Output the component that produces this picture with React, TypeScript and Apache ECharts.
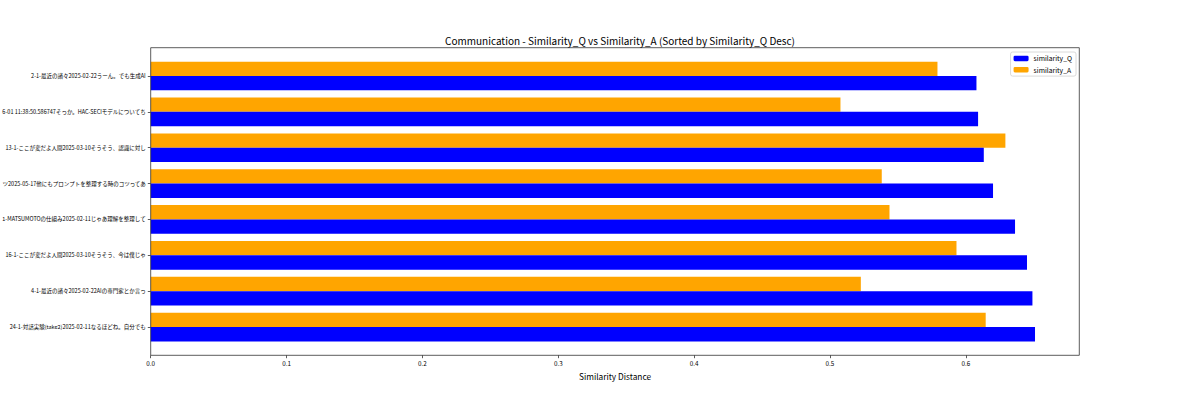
import React, { useEffect, useRef } from "react";
import * as echarts from "echarts";

const categories: string[] = [
  "2-1-最近の諸々2025-02-22うーん。でも生成AI",
  "6-01 11:38:50.586747そっか。HAC-SECIモデルについてち",
  "13-1-ここが変だよ人間2025-03-10そうそう、認識に対し",
  "ツ2025-05-17他にもプロンプトを整理する時のコツってあ",
  "1-MATSUMOTOの仕組み2025-02-11じゃあ理解を整理して",
  "16-1-ここが変だよ人間2025-03-10そうそう、今は僕じゃ",
  "4-1-最近の諸々2025-02-22AIの専門家とか言っ",
  "24-1-対話実験(take2)2025-02-11なるほどね。自分でも",
];
const similarityQ: number[] = [0.6078, 0.609, 0.6132, 0.62, 0.6362, 0.645, 0.649, 0.6509];
const similarityA: number[] = [0.5791, 0.5077, 0.6291, 0.5381, 0.5438, 0.5931, 0.5227, 0.6146];
const xMax = 0.6835;
const xInterval = 0.1;

const FONT = "'Noto Sans CJK JP', 'Noto Sans', sans-serif";

export default function App() {
  const ref = useRef<HTMLDivElement>(null);
  useEffect(() => {
    if (!ref.current) return;
    const chart = echarts.init(ref.current, null, { renderer: "svg" });
    const L = 150.7, R = 1079.3, T = 47.7, B = 355.3;
    const gridTop = 58.07, gridBottom = 345.0;
    chart.setOption({
      animation: false,
      backgroundColor: "#ffffff",
      textStyle: { fontFamily: FONT },
      title: {
        text: "Communication - Similarity_Q vs Similarity_A (Sorted by Similarity_Q Desc)",
        left: 615,
        top: 30,
        textAlign: "center",
        textStyle: { fontSize: 10, fontWeight: "normal", color: "#000", fontFamily: FONT },
      },
      legend: {
        data: ["similarity_Q", "similarity_A"],
        orient: "vertical",
        right: 1200 - 1076,
        top: 52,
        itemWidth: 15,
        itemHeight: 5.5,
        itemGap: 4.5,
        padding: [3, 4, 3, 3],
        borderColor: "#d0d0d0",
        borderWidth: 0.8,
        borderRadius: 2,
        backgroundColor: "rgba(255,255,255,0.8)",
        textStyle: { fontSize: 6.8, color: "#000", fontFamily: FONT },
      },
      grid: {
        left: L,
        right: 1200 - R,
        top: gridTop,
        bottom: 400 - gridBottom,
        containLabel: false,
        outerBoundsMode: "none",
      },
      xAxis: {
        type: "value",
        min: 0,
        max: xMax,
        interval: xInterval,
        offset: B - gridBottom,
        axisLine: { show: false },
        axisTick: { show: true, length: 2.9, lineStyle: { color: "#333", width: 0.8 } },
        axisLabel: {
          fontSize: 6.3,
          color: "#000",
          margin: 5,
          fontFamily: FONT,
          showMaxLabel: false,
          formatter: (v: number) => v.toFixed(1),
        },
        splitLine: { show: false },
        name: "Similarity Distance",
        nameLocation: "middle",
        nameGap: 12,
        nameTextStyle: { fontSize: 8.3, color: "#000", fontFamily: FONT, verticalAlign: "top" },
      },
      yAxis: {
        type: "category",
        data: categories,
        inverse: true,
        axisLine: { show: false },
        axisTick: { show: true, alignWithLabel: true, length: 2.9, lineStyle: { color: "#333", width: 0.8 } },
        axisLabel: { fontSize: 5.5, color: "#000", margin: 5, fontFamily: FONT, interval: 0 },
        splitLine: { show: false },
      },
      series: [
        {
          name: "similarity_A",
          type: "bar",
          data: similarityA,
          barWidth: "40%",
          barGap: "0%",
          itemStyle: { color: "#ffa500" },
        },
        {
          name: "similarity_Q",
          type: "bar",
          data: similarityQ,
          barWidth: "40%",
          barGap: "0%",
          itemStyle: { color: "#0000ff" },
        },
      ],
      graphic: [
        {
          type: "rect",
          shape: { x: L, y: T, width: R - L, height: B - T },
          style: { fill: "none", stroke: "#333", lineWidth: 0.8 },
          z: 100,
          silent: true,
        },
      ],
    });
    return () => chart.dispose();
  }, []);
  return (
    <div style={{ position: "absolute", left: 0, top: 0, width: 1200, height: 400 }}>
      <div ref={ref} style={{ width: 1200, height: 400 }} />
    </div>
  );
}
